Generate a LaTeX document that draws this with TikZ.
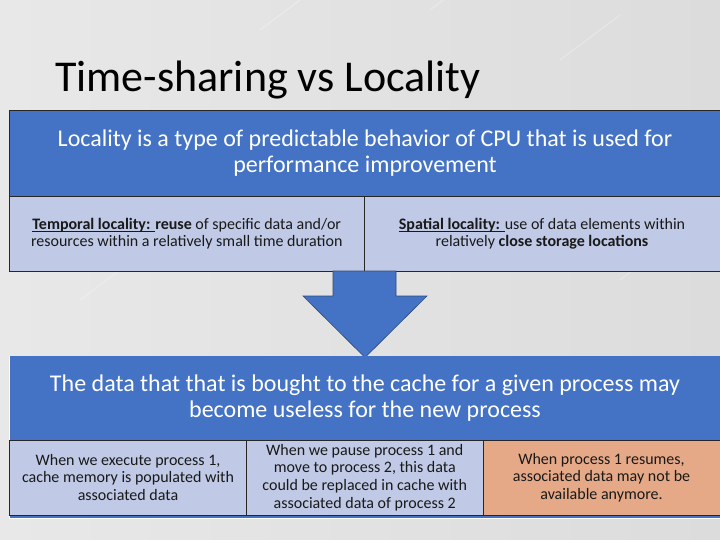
\documentclass[tikz,border=0pt]{standalone}
\usepackage{fontspec}
\setmainfont{Carlito}
\newcommand{\myuline}[1]{\leavevmode\setbox0=\hbox{#1}\rlap{\raisebox{-2.4pt}{\rule{\wd0}{1pt}}}\box0}
\definecolor{hdrblue}{HTML}{4472C4}
\definecolor{lightblue}{HTML}{C0CAE6}
\definecolor{peach}{HTML}{E6A988}
\definecolor{bgA}{HTML}{E8E8E8}
\definecolor{bgB}{HTML}{DCDCDC}
\definecolor{arrowedge}{HTML}{2F4B7A}
\tikzset{
  hdr/.style={draw=black!85, line width=0.8pt, fill=hdrblue, text=white, align=center, inner sep=0pt,
    font=\fontsize{24}{26}\selectfont},
  cell/.style={draw=black!85, line width=0.8pt, fill=lightblue, text=black!90, align=center, inner sep=0pt,
    font=\fontsize{16}{17.6}\selectfont},
  warmcell/.style={cell, fill=peach},
  titletext/.style={anchor=base west, inner sep=0pt, text=black, font=\fontsize{44}{50}\selectfont},
  bigarrow/.style={fill=hdrblue, draw=arrowedge, line width=0.6pt, line join=miter}
}
\begin{document}
\begin{tikzpicture}[x=1pt,y=-1pt]
\useasboundingbox (0,0) rectangle (720,540);
\clip (0,0) rectangle (720,540);
% background
\shade[left color=bgA, right color=bgB] (0,0) rectangle (720,540);
\foreach \a/\b in {120/0, 260/30, 430/10, 560/60, 80/300, 300/250, 620/280, 200/480, 500/470}{
  \draw[white, opacity=0.25, line width=1.2pt] (\a,\b) -- ++(60,-45);
}
% title
\node[titletext] (title) at (55,92) {Time-sharing vs Locality};
% top group
\node[hdr, minimum width=710.5pt, minimum height=86.5pt] (tophdr) at (365,153.25)
  {Locality is a type of predictable behavior of CPU that is used for\\performance improvement};
\node[cell, minimum width=354.5pt, minimum height=74.5pt] (temporal) at (186.75,233.75)
  {\myuline{\textbf{Temporal locality: }}\textbf{reuse} of specific data and/or\\resources within a relatively small time duration};
\node[cell, minimum width=356pt, minimum height=74.5pt] (spatial) at (542,233.75)
  {\myuline{\textbf{Spatial locality: }}use of data elements within\\relatively \textbf{close storage locations}};
% arrow
\draw[bigarrow] (333,271) -- (396,271) -- (396,296) -- (427,296) -- (365,357.5) -- (303,296) -- (333,296) -- cycle;
% bottom group
\node[fill=hdrblue, draw=white, line width=0.8pt, minimum width=710.5pt, minimum height=162pt, inner sep=0pt] (botframe) at (365,437) {};
\node[hdr, draw=none, minimum width=710.5pt, minimum height=84pt] (bothdr) at (365,398)
  {The data that that is bought to the cache for a given process may\\become useless for the new process};
\node[cell, minimum width=237pt, minimum height=75pt] (exec) at (128,477.5)
  {When we execute process 1,\\cache memory is populated with\\associated data};
\node[cell, minimum width=236.5pt, minimum height=75pt] (pause) at (364.75,477.5)
  {When we pause process 1 and\\move to process 2, this data\\could be replaced in cache with\\associated data of process 2};
\node[warmcell, minimum width=237pt, minimum height=75pt] (resume) at (601.5,477.5)
  {When process 1 resumes,\\associated data may not be\\available anymore.};
\end{tikzpicture}
\end{document}
